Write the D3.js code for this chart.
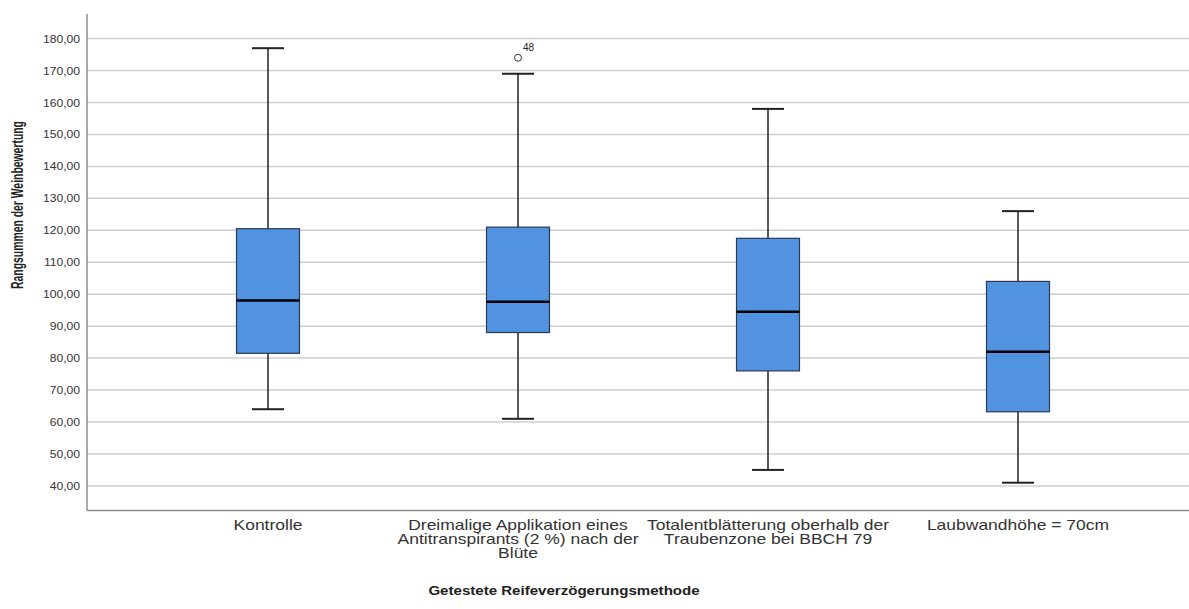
<!DOCTYPE html>
<html>
<head>
<meta charset="utf-8">
<script src="https://cdn.jsdelivr.net/npm/d3@7"></script>
<style>
  body { margin: 0; background: #fff; }
  text { font-family: "Liberation Sans", Arial, sans-serif; fill: #222; }
</style>
</head>
<body>
<script>
// boxplot summary values per category (read from the SPSS output)
var categories = [
  "Kontrolle",
  "Dreimalige Applikation eines\nAntitranspirants (2 %) nach der\nBlüte",
  "Totalentblätterung oberhalb der\nTraubenzone bei BBCH 79",
  "Laubwandhöhe = 70cm"
];
var lowerWhisker = [64, 61, 45, 41];
var q1 = [81.5, 88, 76, 63.2];
var median = [98, 97.6, 94.5, 82];
var q3 = [120.5, 121, 117.5, 104];
var upperWhisker = [177, 169, 158, 126];

var outlierCategory = [1];
var outlierValue = [174];
var outlierLabel = ["48"];

var yTicks = [40, 50, 60, 70, 80, 90, 100, 110, 120, 130, 140, 150, 160, 170, 180];

var W = 1189, H = 609;
var plotLeft = 87, plotTop = 14, plotBottom = 510.5;

var svg = d3.select("body").append("svg")
  .attr("width", W)
  .attr("height", H);

var y = d3.scaleLinear()
  .domain([32.3, 187.7])
  .range([plotBottom, plotTop]);

var x = d3.scalePoint()
  .domain(d3.range(categories.length))
  .range([plotLeft, 1199])
  .padding(0.724);

var de = d3.formatLocale({decimal: ",", thousands: ".", grouping: [3], currency: ["", " €"]});
var fmt = de.format(".2f");

// gridlines
svg.append("g").selectAll("line")
  .data(yTicks)
  .enter().append("line")
    .attr("x1", plotLeft)
    .attr("x2", W)
    .attr("y1", function(d){ return y(d); })
    .attr("y2", function(d){ return y(d); })
    .attr("stroke", "#cfcfcf")
    .attr("stroke-width", 1.5);

// y tick labels (slightly stretched like the spss export)
svg.append("g").selectAll("text")
  .data(yTicks)
  .enter().append("text")
    .attr("transform", function(d){ return "translate(80," + (y(d) + 4) + ") scale(1.1,1)"; })
    .attr("text-anchor", "end")
    .style("font-size", "11px")
    .style("fill", "#333")
    .text(function(d){ return fmt(d); });

// axis lines
svg.append("line")
  .attr("x1", plotLeft).attr("x2", plotLeft)
  .attr("y1", plotTop).attr("y2", plotBottom)
  .attr("stroke", "#8c8c8c").attr("stroke-width", 1.5);
svg.append("line")
  .attr("x1", plotLeft).attr("x2", W)
  .attr("y1", plotBottom).attr("y2", plotBottom)
  .attr("stroke", "#8c8c8c").attr("stroke-width", 1.5);

var boxW = 63, capW = 32;

var boxes = svg.append("g").selectAll("g")
  .data(d3.range(categories.length))
  .enter().append("g");

// whiskers
boxes.append("line")
  .attr("x1", function(i){ return x(i); })
  .attr("x2", function(i){ return x(i); })
  .attr("y1", function(i){ return y(lowerWhisker[i]); })
  .attr("y2", function(i){ return y(upperWhisker[i]); })
  .attr("stroke", "#222").attr("stroke-width", 1.5);

boxes.append("line")
  .attr("x1", function(i){ return x(i) - capW / 2; })
  .attr("x2", function(i){ return x(i) + capW / 2; })
  .attr("y1", function(i){ return y(upperWhisker[i]); })
  .attr("y2", function(i){ return y(upperWhisker[i]); })
  .attr("stroke", "#222").attr("stroke-width", 2);

boxes.append("line")
  .attr("x1", function(i){ return x(i) - capW / 2; })
  .attr("x2", function(i){ return x(i) + capW / 2; })
  .attr("y1", function(i){ return y(lowerWhisker[i]); })
  .attr("y2", function(i){ return y(lowerWhisker[i]); })
  .attr("stroke", "#222").attr("stroke-width", 2);

// box
boxes.append("rect")
  .attr("x", function(i){ return x(i) - boxW / 2; })
  .attr("y", function(i){ return y(q3[i]); })
  .attr("width", boxW)
  .attr("height", function(i){ return y(q1[i]) - y(q3[i]); })
  .attr("fill", "#5192e1")
  .attr("stroke", "#2b3a4f")
  .attr("stroke-width", 1.2);

// median
boxes.append("line")
  .attr("x1", function(i){ return x(i) - boxW / 2; })
  .attr("x2", function(i){ return x(i) + boxW / 2; })
  .attr("y1", function(i){ return y(median[i]); })
  .attr("y2", function(i){ return y(median[i]); })
  .attr("stroke", "#000").attr("stroke-width", 2.5);

// outliers
svg.append("g").selectAll("circle")
  .data(outlierValue)
  .enter().append("circle")
    .attr("cx", function(d, k){ return x(outlierCategory[k]); })
    .attr("cy", function(d){ return y(d); })
    .attr("r", 3.5)
    .attr("fill", "none")
    .attr("stroke", "#333")
    .attr("stroke-width", 1);

svg.append("g").selectAll("text")
  .data(outlierLabel)
  .enter().append("text")
    .attr("x", function(d, k){ return x(outlierCategory[k]) + 5; })
    .attr("y", function(d, k){ return y(outlierValue[k]) - 7; })
    .style("font-size", "10px")
    .text(function(d){ return d; });

// category labels
var lab = svg.append("g").selectAll("text")
  .data(d3.range(categories.length))
  .enter().append("text")
    .attr("text-anchor", "middle")
    .attr("transform", function(i){ return "translate(" + x(i) + ",530) scale(1.25,1)"; })
    .style("font-size", "14px")
    .style("fill", "#333");

lab.selectAll("tspan")
  .data(function(i){ return categories[i].split("\n"); })
  .enter().append("tspan")
    .attr("x", 0)
    .attr("dy", function(d, j){ return j === 0 ? 0 : 14; })
    .text(function(d){ return d; });

// axis titles
svg.append("text")
  .attr("transform", "translate(564,595) scale(1.16,1)")
  .attr("text-anchor", "middle")
  .style("font-size", "13px")
  .style("font-weight", "bold")
  .text("Getestete Reifeverzögerungsmethode");

svg.append("text")
  .attr("transform", "translate(23,205) rotate(-90) scale(0.65,1)")
  .attr("text-anchor", "middle")
  .style("font-size", "16px")
  .style("font-weight", "bold")
  .text("Rangsummen der Weinbewertung");
</script>
</body>
</html>
